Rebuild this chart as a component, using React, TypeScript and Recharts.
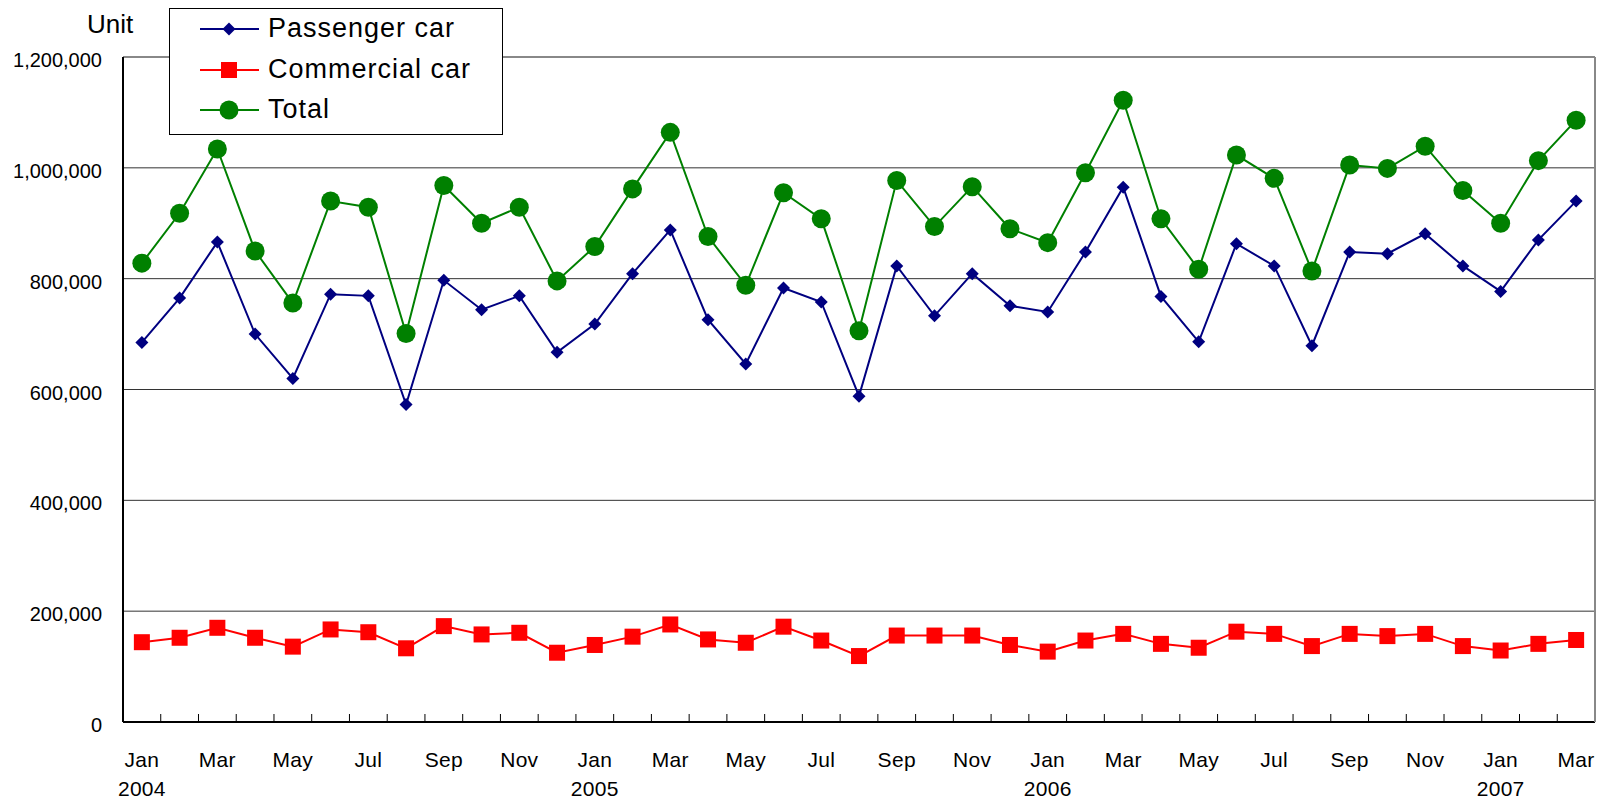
import React from 'react';
import { LineChart, Line, XAxis, YAxis, CartesianGrid, ReferenceLine } from 'recharts';

const months = [
  'Jan', 'Feb', 'Mar', 'Apr', 'May', 'Jun', 'Jul', 'Aug', 'Sep', 'Oct', 'Nov', 'Dec',
  'Jan', 'Feb', 'Mar', 'Apr', 'May', 'Jun', 'Jul', 'Aug', 'Sep', 'Oct', 'Nov', 'Dec',
  'Jan', 'Feb', 'Mar', 'Apr', 'May', 'Jun', 'Jul', 'Aug', 'Sep', 'Oct', 'Nov', 'Dec',
  'Jan', 'Feb', 'Mar',
];
const years = [
  '2004', '', '', '', '', '', '', '', '', '', '', '',
  '2005', '', '', '', '', '', '', '', '', '', '', '',
  '2006', '', '', '', '', '', '', '', '', '', '', '',
  '2007', '', '',
];
const passengerCar = [
  685000, 765000, 866000, 700000, 620000, 772000, 769000, 573000, 797000, 744000, 769000, 667000,
  718000, 809000, 888000, 726000, 646000, 783000, 758000, 588000, 823000, 733000, 809000, 751000,
  740000, 848000, 965000, 768000, 686000, 863000, 823000, 679000, 848000, 845000, 881000, 823000,
  777000, 870000, 940000,
];
const commercialCar = [
  144000, 152000, 170000, 152000, 136000, 167000, 162000, 133000, 173000, 158000, 161000, 125000,
  139000, 154000, 176000, 149000, 143000, 172000, 147000, 119000, 156000, 156000, 156000, 139000,
  127000, 147000, 159000, 141000, 134000, 163000, 159000, 137000, 159000, 155000, 159000, 137000,
  129000, 141000, 148000,
];
const totalCars = [
  828000, 918000, 1034000, 850000, 756000, 940000, 929000, 701000, 968000, 900000, 929000, 796000,
  858000, 962000, 1064000, 876000, 788000, 955000, 908000, 706000, 977000, 894000, 966000, 890000,
  865000, 991000, 1122000, 908000, 817000, 1023000, 981000, 814000, 1005000, 999000, 1039000, 959000,
  900000, 1013000, 1086000,
];
const yTicks = [0, 200000, 400000, 600000, 800000, 1000000, 1200000];

const data = months.map((month, i) => ({
  month,
  year: years[i],
  passenger: passengerCar[i],
  commercial: commercialCar[i],
  total: totalCars[i],
}));

const FONT = '"Liberation Sans", Arial, sans-serif';
const NAVY = '#000080';
const RED = '#ff0000';
const GREEN = '#008000';
const PLOT_W = 1472;
const HALF_STEP = PLOT_W / data.length / 2;

const Diamond = ({ cx, cy, r = 6.5 }: any) => (
  <polygon points={`${cx},${cy - r} ${cx + r},${cy} ${cx},${cy + r} ${cx - r},${cy}`} fill={NAVY} />
);
const Square = ({ cx, cy, s = 16 }: any) => (
  <rect x={cx - s / 2} y={cy - s / 2} width={s} height={s} fill={RED} />
);
const Dot = ({ cx, cy, r = 9.5 }: any) => <circle cx={cx} cy={cy} r={r} fill={GREEN} />;

// month label every other month, year under Jan, small tick mark between months
const MonthTick = ({ x, y, payload, index }: any) => {
  const edge = x - HALF_STEP;
  return (
    <g>
      {index > 0 && <line x1={edge} y1={y} x2={edge} y2={y - 8} stroke="#000" strokeWidth={1} />}
      {index % 2 === 0 && (
        <text x={x} y={y} dy={45} textAnchor="middle" fontSize={21} letterSpacing={0.3} fontFamily={FONT} fill="#000">
          {payload.value}
        </text>
      )}
      {years[index] && (
        <text x={x} y={y} dy={74} textAnchor="middle" fontSize={21} letterSpacing={0.3} fontFamily={FONT} fill="#000">
          {years[index]}
        </text>
      )}
    </g>
  );
};

const ValueTick = ({ x, y, payload }: any) => (
  <text x={x - 13} y={y} dy={10} textAnchor="end" fontSize={20} fontFamily={FONT} fill="#000">
    {payload.value.toLocaleString('en-US')}
  </text>
);

const legendRows = [
  { label: 'Passenger car', color: NAVY, mark: <Diamond cx={35} cy={12} /> },
  { label: 'Commercial car', color: RED, mark: <Square cx={35} cy={12} /> },
  { label: 'Total', color: GREEN, mark: <Dot cx={35} cy={12} /> },
];
const rowCenters = [20, 61, 101];

const ChartLegend = () => (
  <div
    style={{
      position: 'absolute',
      left: 169,
      top: 8,
      width: 334,
      height: 127,
      boxSizing: 'border-box',
      border: '1px solid #000',
      background: '#fff',
      fontFamily: FONT,
    }}
  >
    {legendRows.map((row, i) => (
      <React.Fragment key={row.label}>
        <svg
          width={70}
          height={24}
          style={{ position: 'absolute', left: 24, top: rowCenters[i] - 12 }}
        >
          <line x1={6} y1={12} x2={65} y2={12} stroke={row.color} strokeWidth={2} />
          {row.mark}
        </svg>
        <div
          style={{
            position: 'absolute',
            left: 98,
            top: rowCenters[i] - 14,
            fontSize: 27,
            lineHeight: '27px',
            letterSpacing: 1,
            whiteSpace: 'nowrap',
          }}
        >
          {row.label}
        </div>
      </React.Fragment>
    ))}
  </div>
);

export default function App() {
  return (
    <div style={{ position: 'absolute', left: 0, top: 0, width: 1606, height: 801, background: '#fff' }}>
      <LineChart width={1606} height={801} data={data} margin={{ top: 57, right: 10, bottom: 0, left: 0 }}>
        <CartesianGrid vertical={false} stroke="#333" strokeWidth={1} />
        <XAxis
          dataKey="month"
          interval={0}
          height={79}
          padding={{ left: HALF_STEP, right: HALF_STEP }}
          tick={<MonthTick />}
          tickLine={false}
          tickSize={0}
          tickMargin={0}
          axisLine={{ stroke: '#000', strokeWidth: 2 }}
        />
        <YAxis
          domain={[0, 1200000]}
          ticks={yTicks}
          width={123}
          tick={<ValueTick />}
          tickLine={false}
          axisLine={{ stroke: '#000', strokeWidth: 2 }}
        />
        <YAxis
          yAxisId="right"
          orientation="right"
          width={1}
          tick={false}
          tickLine={false}
          axisLine={{ stroke: '#888', strokeWidth: 2 }}
        />
        <ReferenceLine y={1200000} stroke="#888" strokeWidth={2} />
        <Line
          dataKey="passenger"
          stroke={NAVY}
          strokeWidth={2}
          isAnimationActive={false}
          dot={(p: any) => <Diamond key={`p-${p.index}`} cx={p.cx} cy={p.cy} />}
        />
        <Line
          dataKey="commercial"
          stroke={RED}
          strokeWidth={2}
          isAnimationActive={false}
          dot={(p: any) => <Square key={`c-${p.index}`} cx={p.cx} cy={p.cy} />}
        />
        <Line
          dataKey="total"
          stroke={GREEN}
          strokeWidth={2}
          isAnimationActive={false}
          dot={(p: any) => <Dot key={`t-${p.index}`} cx={p.cx} cy={p.cy} />}
        />
      </LineChart>
      <div
        style={{
          position: 'absolute',
          left: 87,
          top: 11,
          fontSize: 26,
          lineHeight: '26px',
          fontFamily: FONT,
          color: '#000',
        }}
      >
        Unit
      </div>
      <ChartLegend />
    </div>
  );
}
